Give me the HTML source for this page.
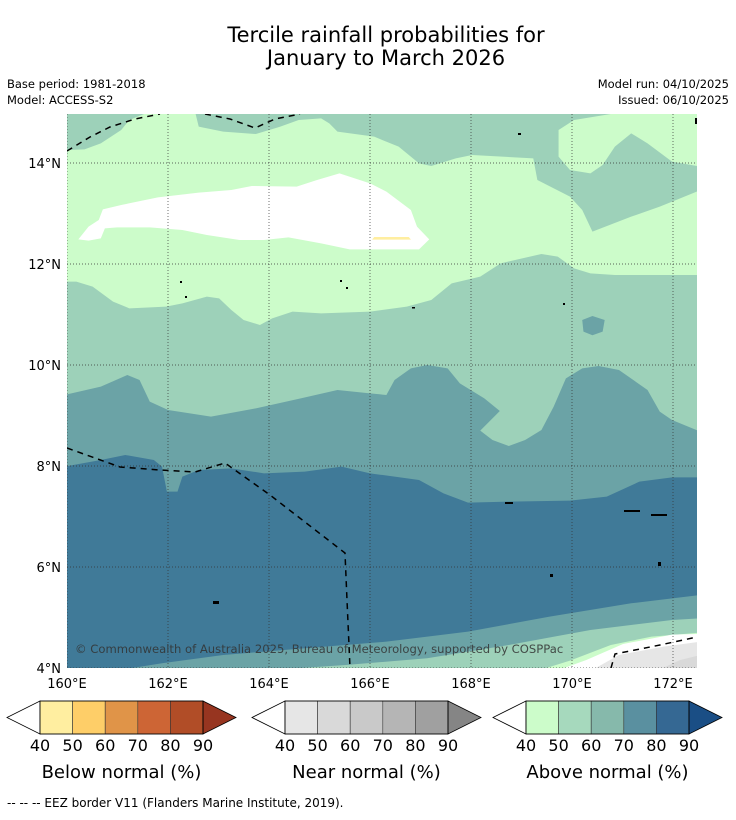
<!DOCTYPE html>
<html><head><meta charset="utf-8">
<style>
body{margin:0;background:#fff;width:736px;height:816px;overflow:hidden;font-family:"DejaVu Sans","Liberation Sans",sans-serif;}
svg text{font-family:"DejaVu Sans","Liberation Sans",sans-serif;fill:#000;}
</style></head><body>
<svg id="fig" width="736" height="816" viewBox="0 0 736 816" xmlns="http://www.w3.org/2000/svg">
<text x="386" y="42" font-size="21" text-anchor="middle">Tercile rainfall probabilities for</text>
<text x="386" y="65" font-size="21" text-anchor="middle">January to March 2026</text>
<text x="7" y="88" font-size="11.5">Base period: 1981-2018</text>
<text x="7" y="104" font-size="11.5">Model: ACCESS-S2</text>
<text x="729" y="88" font-size="11.5" text-anchor="end">Model run: 04/10/2025</text>
<text x="729" y="104" font-size="11.5" text-anchor="end">Issued: 06/10/2025</text>
<defs><clipPath id="mapclip"><rect x="67" y="114" width="630" height="554"/></clipPath></defs>
<g clip-path="url(#mapclip)">
<rect x="67" y="114" width="630" height="554" fill="#9dd1b9"/>
<g transform="translate(60,110) scale(0.408,0.3333)">
<path fill="#ccfcca" d="M18,120 L60,118 L100,100 L150,60 L170,30 L230,0 L330,0 L340,50 L400,65 L480,72 L540,50 L585,30 L640,25 L660,40 L680,65 L770,80 L830,110 L880,160 L910,168 L970,145 L1010,135 L1160,145 L1170,210 L1250,260 L1280,300 L1305,365 L1400,320 L1470,290 L1520,265 L1570,240 L1570,170 L1500,155 L1440,100 L1400,70 L1360,110 L1330,165 L1300,190 L1250,180 L1222,140 L1222,60 L1260,30 L1410,0 L1570,0 L1570,495 L1360,495 L1300,490 L1260,475 L1220,440 L1180,432 L1080,460 L1030,500 L960,520 L910,570 L850,590 L760,605 L640,610 L570,605 L520,625 L490,645 L450,630 L420,600 L390,565 L360,560 L300,580 L260,590 L170,595 L130,575 L80,530 L40,515 L10,515 Z"/>
<path fill="#ffffff" d="M45,388 L70,350 L95,330 L105,298 L150,285 L240,262 L340,248 L420,240 L470,228 L580,230 L630,210 L685,190 L760,220 L800,245 L860,300 L875,350 L905,388 L880,418 L710,418 L640,400 L560,382 L500,390 L440,390 L360,375 L300,360 L220,352 L140,352 L110,355 L100,385 L70,392 Z"/>
<path fill="#ffeea0" d="M770,381 L855,381 L860,389 L765,389 Z"/>
<path fill="#6ba3a6" d="M1280,630 L1305,618 L1335,630 L1330,665 L1305,676 L1283,665 Z"/>
</g>
<g transform="translate(60,340) scale(0.408,0.3333)">
<path fill="#6ba3a6" d="M10,165 L100,140 L165,105 L195,120 L220,185 L265,210 L370,230 L480,205 L590,175 L680,150 L760,160 L800,165 L820,120 L860,85 L900,75 L950,85 L980,130 L1040,175 L1078,213 L1030,272 L1060,300 L1100,318 L1140,300 L1180,270 L1210,200 L1240,115 L1280,85 L1320,78 L1370,90 L1440,150 L1470,215 L1500,240 L1570,275 L1570,1000 L10,1000 Z"/>
<path fill="#407a98" d="M10,380 L100,360 L160,345 L230,360 L250,380 L262,455 L288,455 L300,410 L340,390 L420,385 L500,400 L600,395 L690,380 L760,400 L880,420 L940,460 L1000,488 L1100,485 L1250,482 L1340,470 L1420,425 L1500,412 L1570,412 L1570,765 L1400,790 L1200,830 L1000,875 L800,905 L600,925 L400,945 L250,970 L120,995 L10,1000 Z"/>
<path fill="#9dd1b9" d="M400,1000 L700,975 L900,955 L1100,915 L1300,870 L1500,840 L1570,835 L1570,1000 Z"/>
<path fill="#ccfcca" d="M1150,1000 L1250,962 L1350,915 L1450,890 L1570,878 L1570,1000 Z"/>
<path fill="#ffffff" d="M1200,1000 L1290,960 L1380,912 L1500,884 L1570,882 L1570,1000 Z"/>
<path fill="#e6e6e6" d="M1290,1000 L1370,945 L1480,920 L1570,905 L1570,1000 Z"/>
<path fill="#d9d9d9" d="M1450,1000 L1520,960 L1570,945 L1570,1000 Z"/>
</g>
<g id="grid" stroke="#333" stroke-width="0.7" stroke-dasharray="1,2" fill="none"></g>
<g stroke="#000" stroke-width="1.5" stroke-dasharray="6,5" fill="none">
<path d="M67,151 L90,137 L110,127 L135,119 L160,114"/>
<path d="M205,114 L230,119 L255,128 L275,119 L300,114"/>
<path d="M67,448 L120,467 L160,470 L195,472 L225,463 L270,495 L345,553 L347,600 L350,668"/>
<path d="M611,668 L615,654 L660,645 L697,637"/>
</g>
<g fill="#000">
<rect x="518" y="133" width="3" height="2"/><rect x="695" y="118" width="2" height="6"/>
<rect x="180" y="281" width="2" height="2"/><rect x="185" y="296" width="2" height="2"/>
<rect x="340" y="280" width="2" height="2"/><rect x="346" y="287" width="2" height="2"/>
<rect x="412" y="307" width="3" height="1.5"/><rect x="563" y="303" width="2" height="2"/>
<rect x="624" y="510" width="16" height="2"/><rect x="651" y="514" width="16" height="2"/>
<rect x="505" y="502" width="8" height="2"/><rect x="550" y="574" width="3" height="3"/>
<rect x="213" y="601" width="6" height="3"/><rect x="658" y="562" width="3" height="4"/>
</g>
<text x="75" y="653" font-size="11.6" style="fill:#333;opacity:0.85">© Commonwealth of Australia 2025, Bureau of Meteorology, supported by COSPPac</text>
</g>
<g id="axes"></g>
<g id="legends"></g>
<text x="7" y="807" font-size="12">--  --  -- EEZ border V11 (Flanders Marine Institute, 2019).</text>
</svg>
<script>
const lonTicks=[160,162,164,166,168,170,172];
const latTicks=[4,6,8,10,12,14];
const levelLabels=["40","50","60","70","80","90"];
const belowColors=["#ffeea0","#fece68","#e09448","#cd6535","#b14d27","#973520"];
const nearColors=["#e6e6e6","#d9d9d9","#c9c9c9","#b5b5b5","#a0a0a0","#858585"];
const aboveColors=["#ccfcca","#a6d9bd","#86b9ab","#5a90a0","#356893","#1a4e85"];
const legendTitles=["Below normal (%)","Near normal (%)","Above normal (%)"];
const NS="http://www.w3.org/2000/svg";
const xLon=l=>67+(l-160)*50.5, yLat=l=>668-(l-4)*50.5;
function mk(t,a,p){const e=document.createElementNS(NS,t);for(const k in a)e.setAttribute(k,a[k]);p.appendChild(e);return e;}
const grid=document.getElementById('grid'),axes=document.getElementById('axes');
lonTicks.forEach(l=>{const x=xLon(l);
 const g=mk('line',{x1:x,x2:x,y1:114,y2:668},grid);
 
 
 const t=mk('text',{x:x,y:688,'font-size':13,'text-anchor':'middle'},axes);t.textContent=l+'°E';
 
 });
latTicks.forEach(l=>{const y=yLat(l);
 const g=mk('line',{x1:67,x2:697,y1:y,y2:y},grid);
 
 
 const t=mk('text',{x:61,y:y+5,'font-size':13,'text-anchor':'end'},axes);t.textContent=l+'°N';
 
 });
const leg=document.getElementById('legends');
const starts=[7,252,493],colorSets=[belowColors,nearColors,aboveColors];
starts.forEach((s,i)=>{const cols=colorSets[i];const bx=s+33,w=32.6,y0=701,y1=734,ym=717.5;
 const g=mk('g',{},leg);
 
 
 const lt=mk('path',{d:`M${s},${ym} L${bx},${y0} L${bx},${y1} Z`,fill:'#fff',stroke:'#000','stroke-width':0.8},g);
 
 
 for(let k=0;k<5;k++){const r=mk('rect',{x:bx+k*w,y:y0,width:w,height:y1-y0,fill:cols[k],stroke:'#333','stroke-width':0.6},g);
  
  }
 const ex=bx+5*w;
 const rt=mk('path',{d:`M${ex},${y0} L${ex+33},${ym} L${ex},${y1} Z`,fill:cols[5],stroke:'#000','stroke-width':0.8},g);
 
 
 mk('rect',{x:bx,y:y0,width:5*w,height:y1-y0,fill:'none',stroke:'#000','stroke-width':0.8},g);
 levelLabels.forEach((lb,k)=>{const t=mk('text',{x:bx+k*w,y:751,'font-size':16,'text-anchor':'middle'},g);t.textContent=lb;
  
  });
 const tt=mk('text',{x:bx+2.5*w,y:778,'font-size':18,'text-anchor':'middle'},g);tt.textContent=legendTitles[i];
 
 
});
</script>
</body></html>
